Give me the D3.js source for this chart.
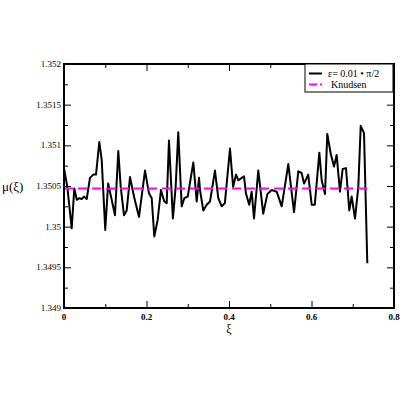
<!DOCTYPE html>
<html lang="en">
<head>
  <meta charset="UTF-8">
  <title>mu(xi)</title>
  <script src="https://d3js.org/d3.v7.min.js"></script>
  <style>
    body { margin: 0; background: #fff; }
    svg { font-family: "Liberation Serif", "DejaVu Serif", serif; }
  </style>
</head>
<body>
  <svg width="400" height="400"></svg>

  <script>
    // values
    const xi = [0, 0.008, 0.0187, 0.025, 0.031, 0.037, 0.043, 0.0485, 0.055, 0.063,
      0.071, 0.0776, 0.0856, 0.0914, 0.100, 0.107, 0.1156, 0.1236, 0.1316, 0.1375,
      0.1455, 0.152, 0.160, 0.1697, 0.1818, 0.1964, 0.206, 0.2126, 0.2189, 0.227,
      0.235, 0.243, 0.249, 0.2545, 0.264, 0.2707, 0.277, 0.2853, 0.2916, 0.2999,
      0.3135, 0.3217, 0.3273, 0.3297, 0.3377, 0.346, 0.354, 0.366, 0.374, 0.3823,
      0.390, 0.4024, 0.410, 0.417, 0.4226, 0.431, 0.4364, 0.441, 0.449, 0.455,
      0.4606, 0.471, 0.483, 0.493, 0.5035, 0.5156, 0.5277, 0.5438, 0.5576, 0.568,
      0.576, 0.582, 0.592, 0.6005, 0.608, 0.619, 0.6247, 0.6327, 0.6383, 0.6465,
      0.6545, 0.661, 0.669, 0.6756, 0.6836, 0.6916, 0.6974, 0.7055, 0.7135, 0.7193,
      0.7273, 0.7353];
    const mu = [1.35072, 1.35049, 1.34998, 1.35047, 1.35033, 1.35035, 1.35034, 1.35037, 1.35034, 1.35060,
      1.35064, 1.35064, 1.35104, 1.35082, 1.34996, 1.35053, 1.35033, 1.35014, 1.35093, 1.35049,
      1.35014, 1.35020, 1.35061, 1.35037, 1.35012, 1.35069, 1.35041, 1.35035, 1.34988, 1.35008,
      1.35045, 1.35031, 1.35029, 1.35106, 1.35010, 1.35049, 1.35116, 1.35025, 1.35035, 1.35037,
      1.35079, 1.35031, 1.35060, 1.35045, 1.35020, 1.35027, 1.35031, 1.35069, 1.35035, 1.35025,
      1.35029, 1.35096, 1.35049, 1.35064, 1.35057, 1.35060, 1.35062, 1.35041, 1.35027, 1.35043,
      1.35010, 1.35069, 1.35016, 1.35040, 1.35045, 1.35043, 1.35025, 1.35077, 1.35018, 1.35068,
      1.35066, 1.35053, 1.35064, 1.35027, 1.35027, 1.35091, 1.35057, 1.35040, 1.35114, 1.35090,
      1.35074, 1.35088, 1.35043, 1.35071, 1.35072, 1.35020, 1.35037, 1.35010, 1.35049, 1.35124,
      1.35115, 1.34955];
    const knudsenXi = [0, 0.742];
    const knudsenMu = [1.35047, 1.35047];

    const xTicks = [0, 0.2, 0.4, 0.6, 0.8];
    const xMinor = [0.1, 0.3, 0.5, 0.7];
    const yTicks = [1.349, 1.3495, 1.35, 1.3505, 1.351, 1.3515, 1.352];
    const yMinor = [1.34925, 1.34975, 1.35025, 1.35075, 1.35125, 1.35175];
    const yLabels = ["1.349", "1.3495", "1.35", "1.3505", "1.351", "1.3515", "1.352"];
    const xLabels = ["0", "0.2", "0.4", "0.6", "0.8"];

    const svg = d3.select("svg");
    const margin = { top: 64, right: 6, bottom: 92, left: 64 };
    const width = 400, height = 400;

    const x = d3.scaleLinear().domain([0, 0.8]).range([margin.left, width - margin.right]);
    const y = d3.scaleLinear().domain([1.349, 1.352]).range([height - margin.bottom, margin.top]);

    svg.append("rect").attr("width", width).attr("height", height).attr("fill", "#fff");

    // ticks, pointing inward on all four sides
    const tickStyle = g => {
      g.select(".domain").remove();
      g.selectAll("line").attr("stroke", "#000").attr("stroke-width", 1);
    };
    const ax = (axis, scale, vals, len, tx, ty) => svg.append("g")
      .attr("transform", `translate(${tx},${ty})`)
      .call(axis(scale).tickValues(vals).tickSize(len).tickFormat(""))
      .call(tickStyle);

    ax(d3.axisTop, x, xTicks, 7, 0, y.range()[0]);
    ax(d3.axisTop, x, xMinor, 4, 0, y.range()[0]);
    ax(d3.axisBottom, x, xTicks, 7, 0, y.range()[1]);
    ax(d3.axisBottom, x, xMinor, 4, 0, y.range()[1]);
    ax(d3.axisRight, y, yTicks, 7, x.range()[0], 0);
    ax(d3.axisRight, y, yMinor, 4, x.range()[0], 0);
    ax(d3.axisLeft, y, yTicks, 7, x.range()[1], 0);
    ax(d3.axisLeft, y, yMinor, 4, x.range()[1], 0);

    // tick labels
    svg.append("g").selectAll("text")
      .data(xTicks)
      .join("text")
      .attr("x", d => x(d))
      .attr("y", y.range()[0] + 12)
      .attr("text-anchor", "middle")
      .attr("font-size", 9)
      .attr("font-weight", "bold")
      .text((d, i) => xLabels[i]);

    svg.append("g").selectAll("text")
      .data(yTicks)
      .join("text")
      .attr("x", x.range()[0] - 3)
      .attr("y", d => y(d) + 3)
      .attr("text-anchor", "end")
      .attr("font-size", 9)
      .text((d, i) => yLabels[i]);

    svg.append("text")
      .attr("x", 229).attr("y", 333)
      .attr("text-anchor", "middle")
      .attr("font-size", 12)
      .text("ξ");

    svg.append("text")
      .attr("x", 2).attr("y", 191)
      .attr("font-size", 13)
      .text("μ(ξ)");

    // series
    const line = d3.line().x(d => x(d[0])).y(d => y(d[1]));

    svg.append("path")
      .datum(xi.map((v, i) => [v, mu[i]]))
      .attr("fill", "none")
      .attr("stroke", "#000")
      .attr("stroke-width", 2)
      .attr("stroke-linejoin", "round")
      .attr("d", line);

    svg.append("path")
      .datum(knudsenXi.map((v, i) => [v, knudsenMu[i]]))
      .attr("fill", "none")
      .attr("stroke", "#ff00ff")
      .attr("stroke-width", 2)
      .attr("stroke-dasharray", "9,5")
      .attr("d", line);

    // frame
    svg.append("rect")
      .attr("x", x.range()[0]).attr("y", y.range()[1])
      .attr("width", x.range()[1] - x.range()[0])
      .attr("height", y.range()[0] - y.range()[1])
      .attr("fill", "none")
      .attr("stroke", "#000")
      .attr("stroke-width", 2);

    // legend
    const lg = svg.append("g").attr("transform", "translate(305,64)");
    lg.append("rect")
      .attr("width", 88).attr("height", 28)
      .attr("fill", "#fff").attr("stroke", "#000").attr("stroke-width", 1);
    lg.append("line")
      .attr("x1", 4).attr("x2", 17).attr("y1", 9.5).attr("y2", 9.5)
      .attr("stroke", "#000").attr("stroke-width", 2);
    lg.append("text").attr("x", 23).attr("y", 13).attr("font-size", 10)
      .text("ε= 0.01 • π/2");
    lg.append("line")
      .attr("x1", 4).attr("x2", 17).attr("y1", 20.5).attr("y2", 20.5)
      .attr("stroke", "#ff00ff").attr("stroke-width", 2).attr("stroke-dasharray", "8,3");
    lg.append("text").attr("x", 26).attr("y", 24).attr("font-size", 10)
      .text("Knudsen");
  </script>
</body>
</html>
